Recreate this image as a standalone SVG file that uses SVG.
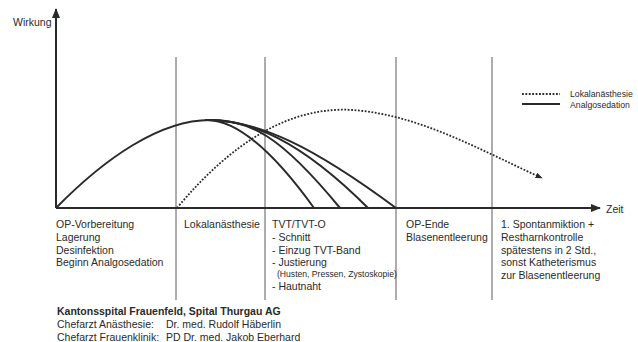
<svg xmlns="http://www.w3.org/2000/svg" width="638" height="342" viewBox="0 0 638 342">
<style>
text{font-family:"Liberation Sans",Arial,sans-serif;fill:#2a2a2a;font-size:10.5px}
.small{font-size:8.6px}
.leg{font-size:8.7px}
.b{font-weight:bold}
.grid{stroke:#5a5a5a;stroke-width:1;fill:none}
.axis{stroke:#2a2a2a;stroke-width:2;fill:none}
.ana{stroke:#2a2a2a;stroke-width:2;fill:none;stroke-linejoin:round}
.lok{stroke:#2a2a2a;stroke-width:1.8;fill:none;stroke-dasharray:1.8 1.6}
</style>
<defs>
<marker id="ah" viewBox="0 0 10 10" refX="9" refY="5" markerWidth="5" markerHeight="5" orient="auto" markerUnits="strokeWidth">
<path d="M0,1 L10,5 L0,9 z" fill="#2a2a2a"/>
</marker>
<marker id="ah2" viewBox="0 0 10 10" refX="9" refY="5" markerWidth="4" markerHeight="4" orient="auto" markerUnits="strokeWidth">
<path d="M0,1 L10,5 L0,9 z" fill="#2a2a2a"/>
</marker>
</defs>
<g id="grid">
<line class="grid" x1="176" y1="57" x2="176" y2="300"/>
<line class="grid" x1="265" y1="57" x2="265" y2="300"/>
<line class="grid" x1="396" y1="57" x2="396" y2="300"/>
<line class="grid" x1="492" y1="57" x2="492" y2="300"/>
</g>
<g id="connectors">
<path class="lok" d="M177,208 C232,142 290,106 353,110 C420,115 480,150 542,178" marker-end="url(#ah2)"/>
<path class="ana" d="M56,208 C105,158 160,120 210,120"/>
<path class="ana" d="M205,120 C230,119 265,140 314,208"/>
<path class="ana" d="M205,120 C250,119 280,135 340,208"/>
<path class="ana" d="M205,120 C250,119 300,140 368,208"/>
<path class="ana" d="M205,120 C258,119 315,148 396,208"/>
</g>
<g id="axes">
<line class="axis" x1="56" y1="208" x2="56" y2="9" marker-end="url(#ah)"/>
<line class="axis" x1="56" y1="208" x2="600" y2="208" marker-end="url(#ah)"/>
<text x="13" y="26">Wirkung</text>
<text x="606" y="213">Zeit</text>
</g>
<g id="legend">
<line class="lok" x1="522" y1="94" x2="560" y2="94"/>
<line class="ana" x1="522" y1="104" x2="560" y2="104"/>
<text class="leg" x="570" y="97">Lokalanästhesie</text>
<text class="leg" x="570" y="107.5">Analgosedation</text>
</g>
<g id="phase1">
<text x="56" y="228">OP-Vorbereitung</text>
<text x="56" y="241">Lagerung</text>
<text x="56" y="253.5">Desinfektion</text>
<text x="56" y="266">Beginn Analgosedation</text>
</g>
<g id="phase2">
<text x="184" y="228">Lokalanästhesie</text>
</g>
<g id="phase3">
<text x="272" y="228">TVT/TVT-O</text>
<text x="272" y="241">- Schnitt</text>
<text x="272" y="253.5">- Einzug TVT-Band</text>
<text x="272" y="266">- Justierung</text>
<text class="small" x="277" y="277">(Husten, Pressen, Zystoskopie)</text>
<text x="272" y="290">- Hautnaht</text>
</g>
<g id="phase4">
<text x="406" y="228">OP-Ende</text>
<text x="406" y="241">Blasenentleerung</text>
</g>
<g id="phase5">
<text x="501" y="228">1. Spontanmiktion +</text>
<text x="501" y="241">Restharnkontrolle</text>
<text x="501" y="253.5">spätestens in 2 Std.,</text>
<text x="501" y="266">sonst Katheterismus</text>
<text x="501" y="278.5">zur Blasenentleerung</text>
</g>
<g id="footer">
<text class="b" x="57" y="315">Kantonsspital Frauenfeld, Spital Thurgau AG</text>
<text x="57" y="328">Chefarzt Anästhesie:</text>
<text x="166" y="328">Dr. med. Rudolf Häberlin</text>
<text x="57" y="341">Chefarzt Frauenklinik:</text>
<text x="166" y="341">PD Dr. med. Jakob Eberhard</text>
</g>
</svg>
